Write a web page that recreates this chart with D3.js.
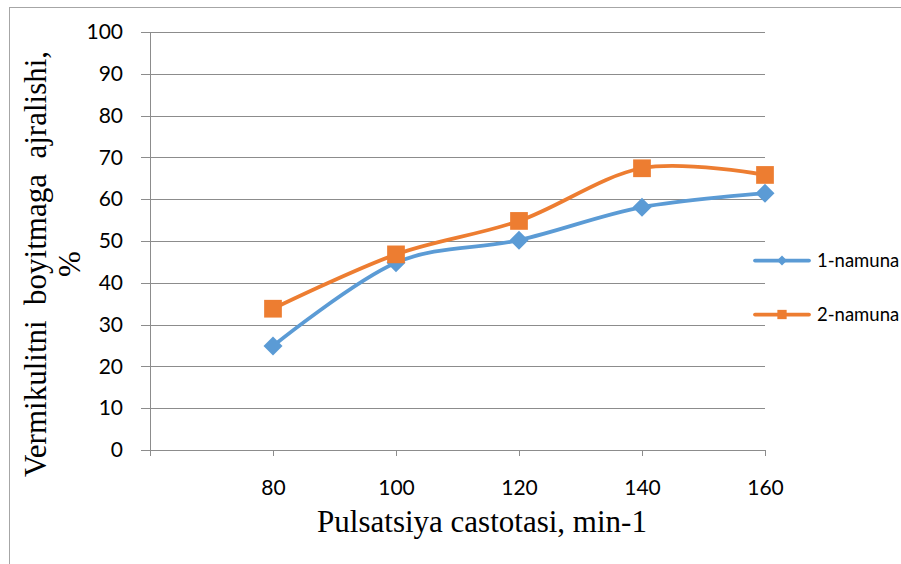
<!DOCTYPE html>
<html>
<head>
<meta charset="utf-8">
<script src="https://cdn.jsdelivr.net/npm/d3@7"></script>
<style>
  html, body { margin: 0; padding: 0; background: #fff; }
  svg { display: block; }
</style>
</head>
<body>
<svg id="chart" width="901" height="564"></svg>
<script>
// Pulsation frequency, min-1
const frequencies = [80, 100, 120, 140, 160];
// Vermiculite separation into concentrate, %
const sample1 = [24.9, 44.8, 50.2, 58.1, 61.4];
const sample2 = [33.8, 46.8, 54.8, 67.4, 65.8];
const seriesNames = ["1-namuna", "2-namuna"];
const yTicks = [0, 10, 20, 30, 40, 50, 60, 70, 80, 90, 100];
const xTicks = [60, 80, 100, 120, 140, 160];

const svg = d3.select("#chart");
const plot = { left: 150, right: 765, top: 32, bottom: 450 };

const x = d3.scaleLinear().domain([60, 160]).range([plot.left, plot.right]);
const y = d3.scaleLinear().domain([0, 100]).range([plot.bottom, plot.top]);

const gridColor = "#8c8c8c";
const tickFont = "Lato, 'Open Sans', sans-serif";
const titleFont = "'Liberation Serif', 'Times New Roman', serif";

// outer chart frame
svg.append("rect")
  .attr("x", 9.5).attr("y", 7.5)
  .attr("width", 960).attr("height", 600)
  .attr("fill", "none").attr("stroke", "#a6a6a6").attr("stroke-width", 1);

// horizontal gridlines with short ticks left of the axis
const yAxis = d3.axisLeft(y)
  .tickValues(yTicks)
  .tickSize(-(plot.right - plot.left))
  .tickPadding(27)
  .tickFormat(d3.format("d"));
const gy = svg.append("g")
  .attr("transform", `translate(${plot.left},0)`)
  .call(yAxis);
gy.select(".domain").remove();
gy.selectAll(".tick line")
  .attr("x1", -9)
  .attr("stroke", gridColor).attr("stroke-width", 1)
  .attr("shape-rendering", "crispEdges");
gy.selectAll(".tick text")
  .attr("fill", "#000")
  .style("font-family", tickFont).style("font-size", "21px");

// vertical axis line
svg.append("line")
  .attr("x1", plot.left + 0.5).attr("x2", plot.left + 0.5)
  .attr("y1", plot.top).attr("y2", plot.bottom + 6)
  .attr("stroke", gridColor).attr("stroke-width", 1);

// horizontal axis with category ticks
const xAxis = d3.axisBottom(x)
  .tickValues(xTicks)
  .tickSize(6)
  .tickPadding(24)
  .tickFormat(d => d === 60 ? "" : d);
const gx = svg.append("g")
  .attr("transform", `translate(0,${plot.bottom})`)
  .call(xAxis);
gx.select(".domain")
  .attr("d", `M${plot.left},0.5H${plot.right}`)
  .attr("stroke", gridColor);
gx.selectAll(".tick line").attr("stroke", gridColor);
gx.selectAll(".tick text")
  .attr("fill", "#000")
  .style("font-family", tickFont).style("font-size", "21px");

// series lines and markers
const line = d3.line()
  .x((d, i) => x(frequencies[i]))
  .y(d => y(d))
  .curve(d3.curveCardinal.tension(0));

const series = [
  { name: seriesNames[0], values: sample1, color: "#5B9BD5", symbol: d3.symbolDiamond2, size: 230, legendSize: 64 },
  { name: seriesNames[1], values: sample2, color: "#ED7D31", symbol: d3.symbolSquare2, size: 400, legendSize: 110 }
];

series.forEach(s => {
  svg.append("path")
    .datum(s.values)
    .attr("d", line)
    .attr("fill", "none")
    .attr("stroke", s.color)
    .attr("stroke-width", 3.75)
    .attr("stroke-linejoin", "round")
    .attr("stroke-linecap", "round");
});

series.forEach(s => {
  svg.append("g").selectAll("path")
    .data(s.values)
    .join("path")
    .attr("transform", (d, i) => `translate(${x(frequencies[i])},${y(d)})`)
    .attr("d", d3.symbol(s.symbol, s.size))
    .attr("fill", s.color);
});

// legend
const legend = svg.append("g");
series.forEach((s, i) => {
  const ly = 260.5 + i * 54;
  const g = legend.append("g").attr("transform", `translate(755,${ly})`);
  g.append("line")
    .attr("x1", 0).attr("x2", 54)
    .attr("stroke", s.color).attr("stroke-width", 3.75)
    .attr("stroke-linecap", "round");
  g.append("path")
    .attr("transform", "translate(27,0)")
    .attr("d", d3.symbol(s.symbol, s.legendSize))
    .attr("fill", s.color);
  g.append("text")
    .attr("x", 62).attr("y", 6.5)
    .style("font-family", tickFont).style("font-size", "18.5px")
    .text(s.name);
});

// axis titles
svg.append("text")
  .attr("x", 482).attr("y", 532)
  .attr("text-anchor", "middle")
  .style("font-family", titleFont)
  .style("font-size", "31px")
  .text("Pulsatsiya castotasi, min-1");

const yTitle = svg.append("text")
  .attr("transform", "rotate(-90)")
  .attr("text-anchor", "middle")
  .style("font-family", titleFont)
  .style("font-size", "31px");
yTitle.append("tspan")
  .attr("x", -264).attr("y", 46)
  .attr("xml:space", "preserve")
  .text("Vermikulitni  boyitmaga  ajralishi,");
yTitle.append("tspan")
  .attr("x", -264).attr("y", 80)
  .text("%");
</script>
</body>
</html>
